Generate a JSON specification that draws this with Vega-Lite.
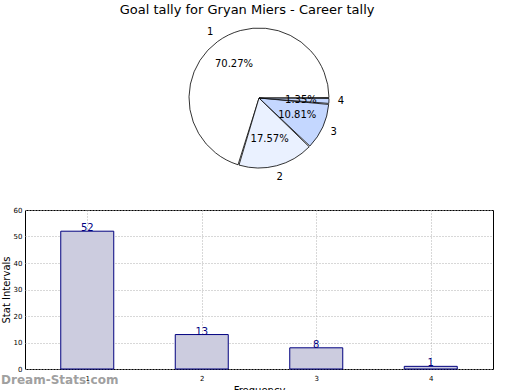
{
  "$schema": "https://vega.github.io/schema/vega-lite/v6.json",
  "padding": {"top": 4, "left": 0, "right": 0, "bottom": 0},
  "spacing": 22,
  "background": "white",
  "config": {
    "font": "DejaVu Sans",
    "view": {"stroke": null}
  },
  "title": {
    "text": "Goal tally for Gryan Miers - Career tally",
    "fontSize": 13,
    "fontWeight": "normal",
    "font": "DejaVu Sans",
    "color": "black",
    "anchor": "middle",
    "offset": 2
  },
  "data": {
    "values": [
      {"cat": 1, "value": 52},
      {"cat": 2, "value": 13},
      {"cat": 3, "value": 8},
      {"cat": 4, "value": 1}
    ]
  },
  "vconcat": [
    {
      "width": 468,
      "height": 158,
      "transform": [
        {"joinaggregate": [{"op": "sum", "field": "value", "as": "total"}]},
        {"calculate": "datum.value / datum.total", "as": "pct"}
      ],
      "encoding": {
        "theta": {"field": "value", "type": "quantitative", "stack": true, "scale": {"range": [1.5708, 7.854]}},
        "order": {"field": "cat", "type": "quantitative", "sort": "descending"}
      },
      "layer": [
        {
          "mark": {"type": "arc", "outerRadius": 70, "stroke": "black", "strokeWidth": 0.8, "padAngle": 0.015},
          "encoding": {
            "color": {
              "field": "cat", "type": "nominal", "legend": null,
              "scale": {"domain": [1, 2, 3, 4], "range": ["#ffffff", "#eaf1ff", "#c4d7ff", "#c4d7ff"]}
            }
          }
        },
        {
          "mark": {"type": "text", "radius": 42, "fontSize": 10, "color": "black"},
          "encoding": {"text": {"field": "pct", "type": "quantitative", "format": ".2%"}}
        },
        {
          "mark": {"type": "text", "radius": 82, "fontSize": 10, "color": "black"},
          "encoding": {"text": {"field": "cat", "type": "nominal"}}
        }
      ]
    },
    {
      "width": 468,
      "height": 159,
      "view": {"stroke": "black", "strokeWidth": 1},
      "title": {
        "text": "Dream-Stats.com",
        "orient": "bottom",
        "anchor": "start",
        "frame": "bounds",
        "fontSize": 12,
        "fontWeight": "bold",
        "color": "#a0a0a0",
        "offset": -20
      },
      "encoding": {
        "x": {
          "field": "cat", "type": "quantitative",
          "scale": {"domain": [0.5, 4.5], "nice": false, "zero": false},
          "axis": {
            "values": [1, 2, 3, 4], "format": "d", "title": "Frequency",
            "titleFontSize": 10, "titleFontWeight": "normal", "titleColor": "black", "titlePadding": 4,
            "labelFontSize": 7, "labelColor": "black", "tickSize": 0, "labelPadding": 5,
            "domain": false, "grid": true, "gridDash": [1, 2], "gridColor": "#b0b0b0"
          }
        },
        "y": {
          "field": "value", "type": "quantitative",
          "scale": {"domain": [0, 60], "nice": false},
          "axis": {
            "values": [0, 10, 20, 30, 40, 50, 60], "title": "Stat Intervals",
            "titleFontSize": 10, "titleFontWeight": "normal", "titleColor": "black", "titlePadding": 2,
            "labelFontSize": 7, "labelColor": "black", "tickSize": 0, "labelPadding": 3,
            "domain": false, "grid": true, "gridDash": [1, 2], "gridColor": "#b0b0b0"
          }
        }
      },
      "layer": [
        {
          "mark": {"type": "bar", "width": 53, "fill": "#ccccdf", "stroke": "#00007f", "strokeWidth": 1}
        },
        {
          "mark": {"type": "text", "baseline": "middle", "dy": -3, "fontSize": 10, "color": "#00007f"},
          "encoding": {"text": {"field": "value", "type": "quantitative"}}
        }
      ]
    }
  ]
}
